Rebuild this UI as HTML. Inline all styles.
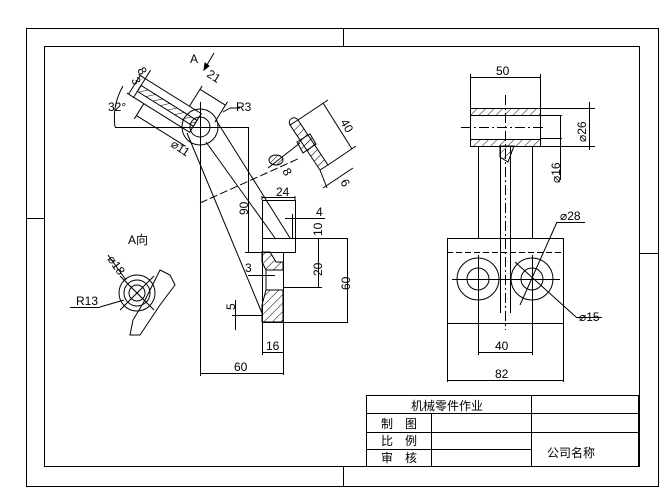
<!DOCTYPE html>
<html><head><meta charset="utf-8"><style>
body{margin:0;background:#fff}
svg{display:block}
text{font-family:"Liberation Sans","Noto Sans CJK SC",sans-serif;font-size:12px;fill:#000}
</style></head><body>
<svg width="670" height="502" viewBox="0 0 670 502" xmlns="http://www.w3.org/2000/svg">
<defs>
<pattern id="h" width="6" height="6" patternUnits="userSpaceOnUse" patternTransform="rotate(45)"><line x1="0" y1="0" x2="0" y2="6" stroke="#000" stroke-width="1"/></pattern>
</defs>
<g fill="none" stroke="#000" stroke-width="1">
<rect x="26.5" y="28.5" width="632" height="458"/>
<rect x="44.5" y="46.5" width="595" height="420"/>
<line x1="343.5" y1="28" x2="343.5" y2="46"/><line x1="343.5" y1="466" x2="343.5" y2="486"/>
<line x1="26" y1="218.5" x2="44" y2="218.5"/><line x1="640" y1="253.5" x2="658" y2="253.5"/>
<rect x="366.5" y="395.5" width="272" height="71"/>
<line x1="366" y1="413.5" x2="638" y2="413.5"/>
<line x1="366" y1="432.5" x2="638" y2="432.5"/>
<line x1="366" y1="449.5" x2="531" y2="449.5"/>
<line x1="431.5" y1="413" x2="431.5" y2="466"/>
<line x1="531.5" y1="395" x2="531.5" y2="466"/>

<circle cx="200" cy="127" r="18"/><circle cx="200" cy="127" r="10"/>
<line x1="115" y1="127.5" x2="249" y2="127.5"/>
<line x1="200.5" y1="102" x2="200.5" y2="376"/>
<line x1="248.5" y1="127" x2="248.5" y2="252"/>
<line x1="216" y1="120" x2="290" y2="238"/>
<line x1="206" y1="142" x2="275" y2="238"/>
<line x1="187" y1="133" x2="262" y2="313"/>
<line x1="200" y1="203" x2="300" y2="158" stroke-dasharray="8,3"/>
<path d="M115 127 Q112 105 123 86"/>
<!-- slanted end detail -->
<g transform="translate(200 127) rotate(32)">
<rect x="-72" y="-12" width="66" height="22"/>
<rect x="-72" y="-4" width="66" height="7" fill="url(#h)"/>
<line x1="-72" y1="-22" x2="-72" y2="-12"/>
<line x1="-78" y1="-12" x2="-78" y2="10"/>
<line x1="-80" y1="-12" x2="-72" y2="-12"/><line x1="-80" y1="10" x2="-72" y2="10"/>
<line x1="-60" y1="24" x2="-2" y2="24"/>
<line x1="-60" y1="10" x2="-60" y2="28"/>
<line x1="-20" y1="-12" x2="-20" y2="-36"/>
<line x1="10" y1="-12" x2="10" y2="-36"/>
<line x1="-20" y1="-32" x2="10" y2="-32"/>
</g>
<line x1="230" y1="108" x2="223" y2="112"/><line x1="230" y1="108" x2="240" y2="108"/>
<line x1="214" y1="53" x2="204" y2="70"/><path d="M204 70 l1 -7 l4 3z" fill="#000"/>
<!-- section right -->
<polygon points="290,125 298,120 328,165 320,170" fill="url(#h)"/>
<path d="M290 125 A4.5 4.5 0 0 1 298 120"/>
<polygon points="297,142 310,134 316,144 303,153" fill="url(#h)"/>
<line x1="298" y1="120" x2="328" y2="100"/>
<line x1="328" y1="165" x2="356" y2="146"/>
<line x1="323" y1="103" x2="352" y2="149"/>
<line x1="320" y1="170" x2="327" y2="188"/>
<line x1="323" y1="188" x2="353" y2="168"/>
<ellipse cx="276" cy="160" rx="7" ry="5" fill="url(#h)"/>
<line x1="300" y1="143" x2="268" y2="168"/>
<!-- bottom part -->
<line x1="262.5" y1="200" x2="262.5" y2="322"/>
<line x1="295.5" y1="200" x2="295.5" y2="252"/>
<line x1="262" y1="200.5" x2="296" y2="200.5"/>
<line x1="262" y1="238.5" x2="348" y2="238.5"/>
<line x1="245" y1="252.5" x2="296" y2="252.5"/>
<line x1="283.5" y1="252" x2="283.5" y2="322"/>
<line x1="262" y1="322.5" x2="348" y2="322.5"/>
<path d="M262 252 L270 252 L276 262 L283 262 L283 270 L266 270 L262 262Z" fill="url(#h)"/>
<path d="M266 290 L283 290 L283 322 L262 322 L262 305 Z" fill="url(#h)"/>
<line x1="266" y1="270" x2="266" y2="290"/>
<line x1="262" y1="196" x2="262" y2="200"/><line x1="295" y1="196" x2="295" y2="200"/>
<line x1="262" y1="197.5" x2="295" y2="197.5"/>
<line x1="285" y1="218.5" x2="325" y2="218.5"/><line x1="292.5" y1="214" x2="292.5" y2="238"/>
<line x1="318.5" y1="238" x2="318.5" y2="287"/><line x1="283" y1="287.5" x2="322" y2="287.5"/>
<line x1="347.5" y1="238" x2="347.5" y2="322"/>
<line x1="232" y1="315.5" x2="262" y2="315.5"/><line x1="235.5" y1="300" x2="235.5" y2="330"/>
<line x1="248" y1="275.5" x2="275" y2="275.5"/>
<line x1="262.5" y1="322" x2="262.5" y2="355"/><line x1="283.5" y1="322" x2="283.5" y2="375"/>
<line x1="262" y1="352.5" x2="283" y2="352.5"/>
<line x1="200" y1="373.5" x2="283" y2="373.5"/>
<!-- A view -->
<circle cx="137" cy="293" r="18"/><circle cx="137" cy="293" r="13"/><circle cx="137" cy="293" r="8"/>
<line x1="120" y1="276" x2="154" y2="310"/><line x1="154" y1="276" x2="120" y2="310"/>
<path d="M160 270 L170 275 L175 285 L160 305 L150 320 L140 335 L130 335 L133 320 L145 300Z"/>
<line x1="108" y1="255" x2="126" y2="280"/>
<line x1="70" y1="307.5" x2="100" y2="307.5"/><line x1="100" y1="307" x2="124" y2="300"/>
<!-- right view -->
<rect x="470.5" y="108.5" width="70" height="38"/>
<rect x="470.5" y="108.5" width="70" height="7" fill="url(#h)"/>
<rect x="470.5" y="139.5" width="70" height="7" fill="url(#h)"/>
<line x1="470.5" y1="74" x2="470.5" y2="108"/><line x1="540.5" y1="74" x2="540.5" y2="108"/>
<line x1="470" y1="77.5" x2="540" y2="77.5"/>
<line x1="505.5" y1="95" x2="505.5" y2="330" stroke-dasharray="10,3,2,3"/>
<line x1="461" y1="127.5" x2="545" y2="127.5" stroke-dasharray="10,3,2,3"/>
<line x1="478.5" y1="146" x2="478.5" y2="238"/><line x1="532.5" y1="146" x2="532.5" y2="238"/>
<line x1="500.5" y1="146" x2="500.5" y2="313"/><line x1="510.5" y1="146" x2="510.5" y2="313"/>
<path d="M500 146 L500 157 L508 162 L514 146Z" fill="url(#h)"/>
<rect x="447.5" y="238.5" width="116" height="85"/>
<line x1="447" y1="252.5" x2="563" y2="252.5" stroke-dasharray="6,3"/>
<circle cx="478" cy="279" r="21"/><circle cx="478" cy="279" r="11"/>
<circle cx="532" cy="279" r="21"/><circle cx="532" cy="279" r="11"/>
<line x1="452" y1="279.5" x2="560" y2="279.5"/>
<line x1="478.5" y1="255" x2="478.5" y2="355"/><line x1="532.5" y1="255" x2="532.5" y2="355"/>
<line x1="478" y1="352.5" x2="532" y2="352.5"/>
<line x1="447.5" y1="323" x2="447.5" y2="382"/><line x1="563.5" y1="323" x2="563.5" y2="382"/>
<line x1="447" y1="380.5" x2="563" y2="380.5"/>
<line x1="540" y1="108.5" x2="595" y2="108.5"/><line x1="540" y1="146.5" x2="595" y2="146.5"/>
<line x1="589.5" y1="102" x2="589.5" y2="150"/>
<line x1="560.5" y1="115" x2="560.5" y2="180"/>
<line x1="540" y1="115.5" x2="562" y2="115.5"/><line x1="540" y1="138.5" x2="562" y2="138.5"/>
<line x1="520" y1="305" x2="557" y2="222"/><line x1="557" y1="222.5" x2="585" y2="222.5"/>
<line x1="515" y1="262" x2="576" y2="317"/><line x1="576" y1="317.5" x2="602" y2="317.5"/>
</g>
<text x="190" y="63" font-size="13">A</text>
<text x="108" y="111">32°</text>
<text x="236" y="111">R3</text>
<text x="276" y="196">24</text>
<text x="316" y="216">4</text>
<text x="245" y="272">3</text>
<text x="266" y="350">16</text>
<text x="234" y="371">60</text>
<text x="128" y="244" font-size="13">A向</text>
<text x="76" y="305">R13</text>
<text x="496" y="75">50</text>
<text x="560" y="220">⌀28</text>
<text x="579" y="321">⌀15</text>
<text x="495" y="350">40</text>
<text x="495" y="378">82</text>
<text x="248" y="215" transform="rotate(-90 248 215)">90</text>
<text x="322" y="236" transform="rotate(-90 322 236)">10</text>
<text x="322" y="276" transform="rotate(-90 322 276)">20</text>
<text x="350" y="290" transform="rotate(-90 350 290)">60</text>
<text x="235" y="310" transform="rotate(-90 235 310)">5</text>
<text x="586" y="142" transform="rotate(-90 586 142)">⌀26</text>
<text x="560" y="183" transform="rotate(-90 560 183)">⌀16</text>
<text x="206" y="76" transform="rotate(33 206 76)">21</text>
<text x="170" y="146" transform="rotate(33 170 146)">⌀11</text>
<text x="137" y="70" transform="rotate(60 137 70)">8</text>
<text x="131" y="80" transform="rotate(60 131 80)">3</text>
<text x="340" y="122" transform="rotate(60 340 122)">40</text>
<text x="340" y="182" transform="rotate(60 340 182)">6</text>
<text x="282" y="171" transform="rotate(60 282 171)">8</text>
<text x="107" y="259" transform="rotate(55 107 259)" font-size="11">⌀18</text>
<text x="411" y="410" font-size="14">机械零件作业</text>
<text x="381" y="428" font-size="10">制　图</text>
<text x="381" y="445" font-size="10">比　例</text>
<text x="381" y="462" font-size="10">审　核</text>
<text x="547" y="457" font-size="15">公司名称</text>
</svg>
</body></html>
